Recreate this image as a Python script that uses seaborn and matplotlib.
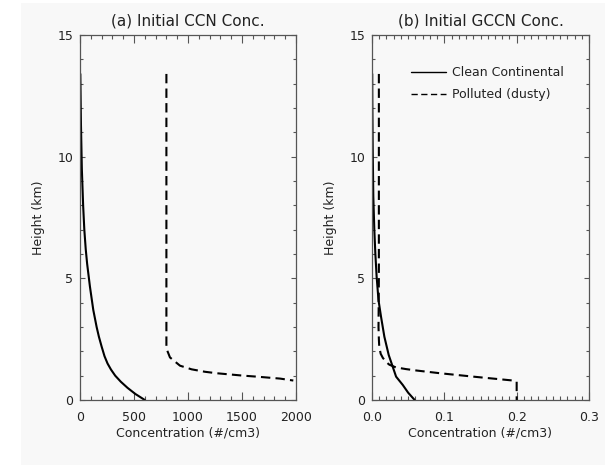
import matplotlib
matplotlib.use("Agg")
import matplotlib.pyplot as plt
from matplotlib.patches import Rectangle
from matplotlib.ticker import MultipleLocator
import seaborn as sns
import pandas as pd

# ---- data ----
ccn_clean_height = [0.0, 0.25, 0.5, 0.75, 1.0, 1.25, 1.5, 1.8, 2.2, 2.6, 3.0, 3.7, 4.66,
                    5.6, 6.2, 7.0, 8.0, 9.5, 11.3, 13.4]
ccn_clean_conc = [600, 512, 440, 378, 326, 287, 255, 227, 200, 175, 154, 123, 92,
                  66, 53, 40, 29, 17, 9, 3]

ccn_dusty_height = [13.4, 8.0, 4.0, 2.12, 1.75, 1.41, 1.26, 1.16, 1.10, 1.05, 1.00, 0.96, 0.92, 0.88, 0.80]
ccn_dusty_conc = [800, 800, 800, 800, 833, 926, 1034, 1157, 1265, 1389, 1512, 1636, 1744, 1852, 1975]

gccn_clean_height = [0.0, 0.3, 0.62, 0.96, 1.37, 1.85, 2.6, 3.42, 4.1, 5.07, 6.03, 7.0, 8.36, 10.3, 12.4, 13.4]
gccn_clean_conc = [0.059, 0.050, 0.0425, 0.0333, 0.0286, 0.0231, 0.0171, 0.0125, 0.0090, 0.0064,
                   0.0046, 0.0032, 0.0018, 0.0010, 0.0004, 0.0003]

gccn_dusty_height = [13.4, 8.0, 5.0, 3.0, 2.5, 2.2, 1.9, 1.73, 1.55, 1.45, 1.34, 1.27, 1.21, 1.10, 0.96, 0.80, 0.75, 0.0]
gccn_dusty_conc = [0.0095, 0.0095, 0.0095, 0.009, 0.0095, 0.010, 0.012, 0.015, 0.020, 0.024, 0.033, 0.047, 0.062, 0.094, 0.140, 0.195, 0.200, 0.200]

series_names = ["Clean Continental", "Polluted (dusty)"]
panel_titles = ["(a) Initial CCN Conc.", "(b) Initial GCCN Conc."]
x_label = "Concentration (#/cm3)"
y_label = "Height (km)"

ccn_df = pd.concat([
    pd.DataFrame({"conc": ccn_clean_conc, "height": ccn_clean_height, "type": series_names[0]}),
    pd.DataFrame({"conc": ccn_dusty_conc, "height": ccn_dusty_height, "type": series_names[1]}),
], ignore_index=True)
gccn_df = pd.concat([
    pd.DataFrame({"conc": gccn_clean_conc, "height": gccn_clean_height, "type": series_names[0]}),
    pd.DataFrame({"conc": gccn_dusty_conc, "height": gccn_dusty_height, "type": series_names[1]}),
], ignore_index=True)

sns.set_style("ticks")
plt.rcParams["font.family"] = ["DejaVu Sans"]

BG = "#f8f8f8"
SPINE = "#555555"
TXT = "#222222"

fig = plt.figure(figsize=(6.05, 4.67), dpi=100, facecolor="white")
fig.patches.append(Rectangle((21 / 605, 2 / 467), 1 - 21 / 605, 462 / 467,
                             transform=fig.transFigure, facecolor=BG,
                             edgecolor="none", zorder=-10))

ax_a = fig.add_axes([80 / 605, 1 - 400 / 467, 216 / 605, 365 / 467])
ax_b = fig.add_axes([372 / 605, 1 - 400 / 467, 217 / 605, 365 / 467])

dash_map = {series_names[0]: "", series_names[1]: (4.5, 2.5)}

for ax, df in [(ax_a, ccn_df), (ax_b, gccn_df)]:
    sns.lineplot(data=df, x="conc", y="height", style="type", dashes=dash_map,
                 color="black", linewidth=1.5, orient="y", sort=False,
                 estimator=None, ax=ax, legend=(ax is ax_b))

ax_a.set_xlim(0, 2000)
ax_a.xaxis.set_major_locator(MultipleLocator(500))
ax_a.xaxis.set_minor_locator(MultipleLocator(100))
ax_b.set_xlim(0, 0.3)
ax_b.xaxis.set_major_locator(MultipleLocator(0.1))
ax_b.xaxis.set_minor_locator(MultipleLocator(0.01))
ax_b.set_xticks([0.0, 0.1, 0.2, 0.3])
ax_b.set_xticklabels(["0.0", "0.1", "0.2", "0.3"])

for ax, title in [(ax_a, panel_titles[0]), (ax_b, panel_titles[1])]:
    ax.set_facecolor(BG)
    ax.set_ylim(0, 15)
    ax.yaxis.set_major_locator(MultipleLocator(5))
    ax.yaxis.set_minor_locator(MultipleLocator(1))
    for s in ax.spines.values():
        s.set_color(SPINE)
        s.set_linewidth(0.9)
    ax.tick_params(axis="x", which="major", direction="in", top=True, bottom=True,
                   length=5.5, width=0.8, color=SPINE, pad=8, labelsize=9, labelcolor=TXT)
    ax.tick_params(axis="x", which="minor", direction="in", top=True, bottom=True,
                   length=2.8, width=0.8, color=SPINE)
    ax.tick_params(axis="y", which="major", direction="in", left=True, right=True,
                   length=3.5, width=0.8, color=SPINE, pad=5, labelsize=9, labelcolor=TXT)
    ax.tick_params(axis="y", which="minor", direction="in", left=True, right=True,
                   length=2.2, width=0.8, color=SPINE)
    ax.set_xlabel(x_label, fontsize=9, color=TXT, labelpad=2)
    ax.set_ylabel(y_label, fontsize=9, color=TXT, labelpad=9)
    ax.set_title(title, fontsize=11, color=TXT, pad=7)

leg = ax_b.legend(loc="upper right", bbox_to_anchor=(0.885, 0.915), frameon=False,
                  fontsize=9, handlelength=2.8, handletextpad=0.5, borderpad=0,
                  borderaxespad=0, labelspacing=0.75, title=None)
for t in leg.get_texts():
    t.set_color(TXT)
for h in leg.get_lines():
    h.set_linewidth(1.0)

fig.savefig("out.png", dpi=100, facecolor="white")
